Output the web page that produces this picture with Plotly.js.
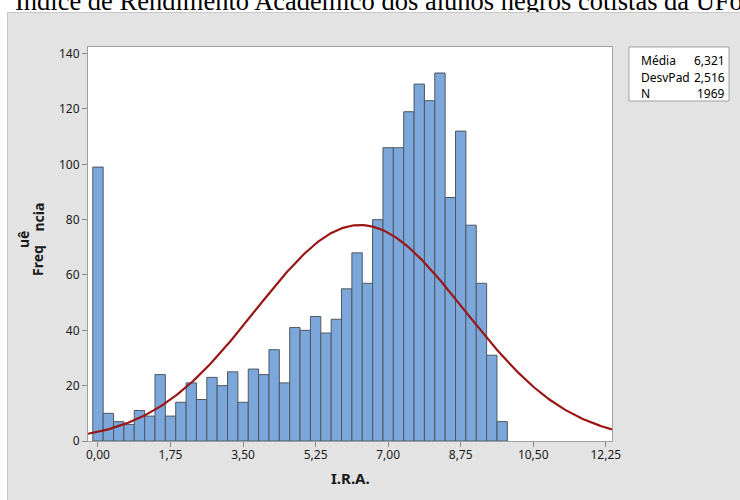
<!DOCTYPE html>
<html>
<head>
<meta charset="utf-8">
<script src="https://cdn.plot.ly/plotly-3.0.1.min.js"></script>
<style>
  html, body { margin: 0; padding: 0; background: #ffffff; width: 740px; height: 500px; overflow: hidden; }
  #title { position: absolute; left: 0; top: 0; }
  #panel { position: absolute; left: 7px; top: 12px; width: 732px; height: 488px;
           border-left: 1px solid #c8c8c8; border-top: 1px solid #c8c8c8; background: #e3e3e3; }
</style>
</head>
<body>
<svg id="title" width="740" height="20">
  <text x="15" y="10" font-family="Liberation Serif, 'Times New Roman', serif" font-size="26.5" fill="#000">Índice de Rendimento Acadêmico dos alunos negros cotistas da UFopa</text>
</svg>
<div id="panel"></div>
<script>
// Bin midpoints (I.R.A.), bin width 0.25
const binMids = [0.00,0.25,0.50,0.75,1.00,1.25,1.50,1.75,2.00,2.25,2.50,2.75,3.00,3.25,3.50,3.75,
                 4.00,4.25,4.50,4.75,5.00,5.25,5.50,5.75,6.00,6.25,6.50,6.75,7.00,7.25,7.50,7.75,
                 8.00,8.25,8.50,8.75,9.00,9.25,9.50,9.75];
const binWidth = 0.25;
// Frequencies
const freq = [99,10,7,6,11,9,24,9,14,21,15,23,20,25,14,26,24,33,21,41,
              40,45,39,44,55,68,57,80,106,106,119,129,123,133,88,112,78,57,31,7];
// Summary statistics (fitted normal)
const media = 6.321, desvPad = 2.516, nObs = 1969;
const xTickVals = [0,1.75,3.5,5.25,7,8.75,10.5,12.25];
const xTickText = ["0,00","1,75","3,50","5,25","7,00","8,75","10,50","12,25"];
const yTickVals = [0,20,40,60,80,100,120,140];
const statLabels = ["Média","DesvPad","N"];
const statValues = ["6,321","2,516","1969"];

// Normal fit curve from the summary statistics
const xMin = -0.241, xMax = 12.40;
const curveX = [], curveY = [];
for (let i = 0; i <= 300; i++) {
  const x = xMin + (xMax - xMin) * i / 300;
  const z = (x - media) / desvPad;
  curveX.push(x);
  curveY.push(nObs * binWidth / (desvPad * Math.sqrt(2 * Math.PI)) * Math.exp(-0.5 * z * z));
}

const font = "'Noto Sans', 'Open Sans', sans-serif";
const traces = [
  { type: 'bar', x: binMids, y: freq, width: binWidth,
    marker: { color: '#7ba7da', line: { color: '#4e5763', width: 1 } },
    hoverinfo: 'x+y' },
  { type: 'scatter', mode: 'lines', x: curveX, y: curveY,
    line: { color: '#9a1616', width: 2.2 }, hoverinfo: 'skip' }
];

const P = (px) => (px - 88) / 524;       // page x -> paper x
const Q = (py) => (441 - py) / 394;      // page y -> paper y

const annotations = [
  { text: '<b>I.R.A.</b>', xref: 'paper', yref: 'paper', x: 0.5, y: Q(478), showarrow: false,
    xanchor: 'center', yanchor: 'middle', font: { family: font, size: 15, color: '#1a1a1a' } },
  { text: '<b>Freq</b>', xref: 'paper', yref: 'paper', x: P(38), y: Q(261), textangle: -90, showarrow: false,
    xanchor: 'center', yanchor: 'middle', font: { family: font, size: 14, color: '#1a1a1a' } },
  { text: '<b>uê</b>', xref: 'paper', yref: 'paper', x: P(23), y: Q(240), textangle: -90, showarrow: false,
    xanchor: 'center', yanchor: 'middle', font: { family: font, size: 14, color: '#1a1a1a' } },
  { text: '<b>ncia</b>', xref: 'paper', yref: 'paper', x: P(38), y: Q(217.5), textangle: -90, showarrow: false,
    xanchor: 'center', yanchor: 'middle', font: { family: font, size: 14, color: '#1a1a1a' } }
];
const statY = [60, 77, 93];
for (let i = 0; i < statLabels.length; i++) {
  annotations.push({ text: statLabels[i], xref: 'paper', yref: 'paper', x: P(639), y: Q(statY[i]),
    showarrow: false, xanchor: 'left', yanchor: 'middle', font: { family: font, size: 12, color: '#000' } });
  annotations.push({ text: statValues[i], xref: 'paper', yref: 'paper', x: P(727), y: Q(statY[i]),
    showarrow: false, xanchor: 'right', yanchor: 'middle', font: { family: font, size: 12, color: '#000' } });
}

const layout = {
  width: 732, height: 488,
  margin: { l: 80, r: 128, t: 34, b: 60 },
  paper_bgcolor: '#e3e3e3', plot_bgcolor: '#ffffff',
  showlegend: false, bargap: 0,
  font: { family: font, size: 12, color: '#1a1a1a' },
  xaxis: { range: [xMin, xMax], tickvals: xTickVals, ticktext: xTickText,
           ticks: 'outside', ticklen: 5, tickcolor: '#8a8a8a', showgrid: false, zeroline: false,
           showline: true, mirror: true, linecolor: '#a0a0a0', linewidth: 1,
           ticklabelstandoff: -2,
           tickfont: { family: font, size: 12, color: '#1a1a1a' } },
  yaxis: { range: [0, 142.4], tickvals: yTickVals,
           ticks: 'outside', ticklen: 5, tickcolor: '#8a8a8a', showgrid: false, zeroline: false,
           showline: true, mirror: true, linecolor: '#a0a0a0', linewidth: 1,
           tickfont: { family: font, size: 12, color: '#1a1a1a' } },
  shapes: [
    { type: 'rect', xref: 'paper', yref: 'paper', x0: P(629), x1: P(729), y0: Q(101), y1: 1,
      fillcolor: '#ffffff', line: { color: '#a0a0a0', width: 1 } }
  ],
  annotations: annotations
};

Plotly.newPlot('panel', traces, layout, { displayModeBar: false, staticPlot: true });
</script>
</body>
</html>
